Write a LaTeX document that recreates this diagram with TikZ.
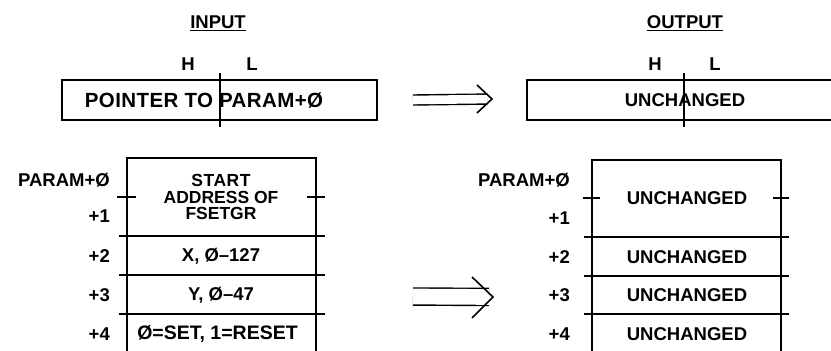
\documentclass[tikz,border=0pt]{standalone}
\usepackage{fontspec}
\setmainfont{Liberation Sans}
\usetikzlibrary{positioning}

\tikzset{
  reg/.style={font=\bfseries\fontsize{18.5}{16.5}\selectfont, inner sep=0pt},
  cellbox/.style={reg, align=center},
  offs/.style={reg, anchor=east},
  frame/.style={line width=1.5pt},
  tick/.style={line width=1.4pt},
  dblarrow/.style={double, line width=1.4pt},
}

\begin{document}
\begin{tikzpicture}[x=1pt, y=-1pt]
\useasboundingbox (0,0) rectangle (831,351);

% Headings
\node[reg] (inhead) at (218,23) {\underline{INPUT}};
\node[reg] (outhead) at (685,23) {\underline{OUTPUT}};

% Register halves
\node[reg] (inH) at (188,64) {H};
\node[reg] (inL) at (252,64) {L};
\node[reg] (outH) at (655,64) {H};
\node[reg] (outL) at (715,64) {L};

% Input register
\node[draw, frame, minimum width=315pt, minimum height=40pt] (inreg) at (219.5,100) {};
\node[reg, font=\bfseries\fontsize{20.5}{20}\selectfont] (intext) at (204,100)
  {\addfontfeature{LetterSpace=2}POINTER TO PARAM+Ø};
\draw[tick] (220,73) -- (220,127);

% Output register (runs off the right edge)
\node[reg] (outreg) at (685,100) {UNCHANGED};
\draw[frame] (833,80) -- (527,80) -- (527,120) -- (833,120);
\draw[tick] (684,73) -- (684,127);

% Arrow between registers
\coordinate (a1s) at (413,100);
\coordinate (a1e) at (492,99);
\draw[dblarrow, double distance=8.6pt, shorten >=5pt] (a1s) -- (a1e);
\draw[line width=1.6pt] (477,85) -- (a1e) -- (477,113);

% Input parameter block
\draw[frame] (127,351) -- (127,158) -- (316,158) -- (316,351);
\foreach \y in {236,275,314}
  \draw[frame] (119,\y) -- (325,\y);
\draw[tick] (117,197) -- (136,197);
\draw[tick] (307,197) -- (325,197);

\node[cellbox, font=\bfseries\fontsize{17.5}{16.8}\selectfont] (in0) at (221,197)
  {\addfontfeature{LetterSpace=3}START\\ADDRESS OF\\FSETGR};
\node[cellbox] (in2) at (221,256) {X, Ø–127};
\node[cellbox] (in3) at (221,295) {Y, Ø–47};
\node[cellbox, font=\bfseries\fontsize{19.5}{18}\selectfont] (in4) at (217.5,334) {Ø=SET, 1=RESET};

\node[offs] (inp0) at (110,180) {PARAM+Ø};
\node[offs] (inp1) at (110,216) {+1};
\node[offs] (inp2) at (110,256) {+2};
\node[offs] (inp3) at (110,295) {+3};
\node[offs] (inp4) at (110,334) {+4};

% Output parameter block
\draw[frame] (592,351) -- (592,160) -- (781,160) -- (781,351);
\foreach \y in {237,276,314}
  \draw[frame] (584,\y) -- (789,\y);
\draw[tick] (583,198) -- (600,198);
\draw[tick] (773,198) -- (789,198);

\node[cellbox] (out0) at (687,198) {UNCHANGED};
\node[cellbox] (out2) at (687,257) {UNCHANGED};
\node[cellbox] (out3) at (687,295) {UNCHANGED};
\node[cellbox] (out4) at (687,334) {UNCHANGED};

\node[offs] (outp0) at (570,180) {PARAM+Ø};
\node[offs] (outp1) at (570,218) {+1};
\node[offs] (outp2) at (570,257) {+2};
\node[offs] (outp3) at (570,295) {+3};
\node[offs] (outp4) at (570,334) {+4};

% Arrow between blocks
\coordinate (a2s) at (413,296.5);
\coordinate (a2e) at (493,297);
\draw[dblarrow, double distance=15.7pt, shorten >=4pt] (a2s) -- (a2e);
\draw[line width=1.6pt] (472,277) -- (a2e) -- (472,318);
\end{tikzpicture}
\end{document}
